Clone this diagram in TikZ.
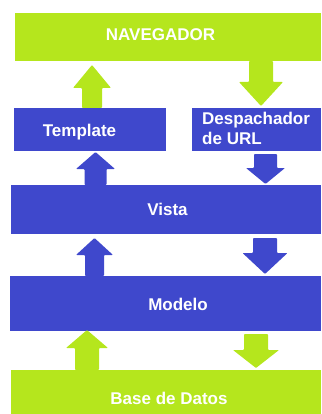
\documentclass[tikz,border=0pt]{standalone}
\usepackage{fontspec}
\setmainfont{Liberation Sans}
\definecolor{limeg}{HTML}{B5E61D}
\definecolor{indig}{HTML}{3F48CC}
\tikzset{
  box/.style={fill=#1, draw=none, inner sep=0pt, anchor=north west},
  lbl/.style={text=white, font=\bfseries\fontsize{17}{19.5}\selectfont, inner sep=0pt, anchor=base},
}
% colour, x centre, tip y, head base y, tail y, shaft half width, head half width
\newcommand\blockarrow[7]{%
  \fill[#1, rounded corners=0.8pt] (#2-#6,#5) -- (#2-#6,#4) -- (#2-#7,#4) -- (#2,#3) -- (#2+#7,#4) -- (#2+#6,#4) -- (#2+#6,#5) -- cycle;}
\begin{document}
\begin{tikzpicture}[x=1pt,y=-1pt]
\useasboundingbox (0,0) rectangle (321,414);
% boxes
\node[box=limeg, minimum width=306pt, minimum height=48pt] (nav) at (15,13) {};
\node[box=indig, minimum width=152pt, minimum height=43pt] (tpl) at (14,108) {};
\node[box=indig, minimum width=129pt, minimum height=43pt] (url) at (192,108) {};
\node[box=indig, minimum width=310pt, minimum height=49pt] (vista) at (11,185) {};
\node[box=indig, minimum width=311pt, minimum height=55pt] (modelo) at (10,276) {};
\node[box=limeg, minimum width=310pt, minimum height=44pt] (bd) at (11,370) {};
% labels
\node[lbl] (tnav) at (160.5,41) {NAVEGADOR};
\node[lbl] (ttpl) at (79.5,137) {Template};
\node[lbl, anchor=base west] (turl1) at (202,125) {Despachador};
\node[lbl, anchor=base west] (turl2) at (202,144) {de URL};
\node[lbl] (tvista) at (167.5,215.5) {Vista};
\node[lbl] (tmodelo) at (178,310) {Modelo};
\node[lbl] (tbd) at (169,404) {Base de Datos};
% arrows up
\blockarrow{limeg}{92}{65}{88}{108}{10}{19}
\blockarrow{indig}{95.5}{152}{169}{185}{11}{19.5}
\blockarrow{indig}{94.5}{238}{255}{276}{9.5}{18.5}
\blockarrow{limeg}{87}{330}{348}{370}{12}{21}
% arrows down
\blockarrow{limeg}{261}{106}{82}{61}{12}{22}
\blockarrow{indig}{265.5}{184}{168}{154}{11.5}{19.5}
\blockarrow{indig}{265}{274}{253}{238}{12}{22.5}
\blockarrow{limeg}{256}{368}{350}{334}{12}{23}
\end{tikzpicture}
\end{document}
